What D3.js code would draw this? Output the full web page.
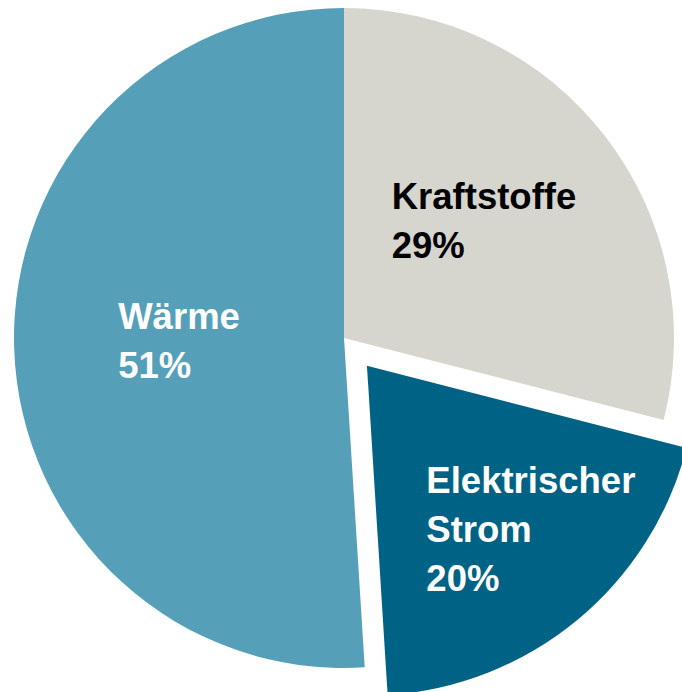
<!DOCTYPE html>
<html>
<head>
<meta charset="utf-8">
<script src="https://cdn.jsdelivr.net/npm/d3@7"></script>
<style>
  body { margin: 0; background: #fff; }
  svg { display: block; }
  text { font-family: "Liberation Sans", Arial, sans-serif; font-weight: bold; }
</style>
</head>
<body>
<div id="chart"></div>
<script>
// data
const categories = ['Kraftstoffe', 'Elektrischer Strom', 'Wärme'];
const labelLines = [['Kraftstoffe'], ['Elektrischer', 'Strom'], ['Wärme']];
const shares = [29, 20, 51];
const exploded = [false, true, false];

// look
const colors = ['#d6d6ce', '#006385', '#559fb8'];
const textColors = ['#000000', '#ffffff', '#ffffff'];
const labelRadius = [183, 231, 165];
const labelAngle = [49.9, 134.8, 269]; // degrees, clockwise from top

const W = 682, H = 692;
const cx = 344, cy = 338, R = 330, explode = 36;
const fontSize = 36.5, lineH = 49, capH = 26;

const svg = d3.select('#chart').append('svg')
    .attr('width', W)
    .attr('height', H);

const pie = d3.pie().sort(null).value(d => d.value);
const arc = d3.arc().innerRadius(0).outerRadius(R);

const data = categories.map((c, i) => ({name: c, value: shares[i], i: i}));
const arcs = pie(data);

const g = svg.append('g').attr('transform', 'translate(' + cx + ',' + cy + ')');

const slices = g.selectAll('g.slice')
    .data(arcs)
    .enter()
    .append('g')
    .attr('class', 'slice')
    .attr('transform', function(d) {
        if (!exploded[d.data.i]) return null;
        const a = (d.startAngle + d.endAngle) / 2;
        return 'translate(' + (Math.sin(a) * explode) + ',' + (-Math.cos(a) * explode) + ')';
    });

slices.append('path')
    .attr('d', arc)
    .attr('fill', d => colors[d.data.i]);

// labels: block of left-aligned lines, centred on a point at given radius/angle
slices.each(function(d) {
    const i = d.data.i;
    const lines = labelLines[i].concat([shares[i] + '%']);
    const a = labelAngle[i] * Math.PI / 180;
    const bx = Math.sin(a) * labelRadius[i];
    const by = -Math.cos(a) * labelRadius[i];
    const t = d3.select(this).append('text')
        .attr('fill', textColors[i])
        .style('font-size', fontSize + 'px');
    lines.forEach((l, k) => {
        t.append('tspan').text(l).attr('dy', k === 0 ? 0 : lineH);
    });
    let maxW = 0;
    t.selectAll('tspan').each(function() {
        maxW = Math.max(maxW, this.getComputedTextLength());
    });
    const left = bx - maxW / 2;
    const base1 = by - (lines.length - 1) * lineH / 2 + capH / 2;
    t.attr('y', base1);
    t.selectAll('tspan').attr('x', left);
});
</script>
</body>
</html>
